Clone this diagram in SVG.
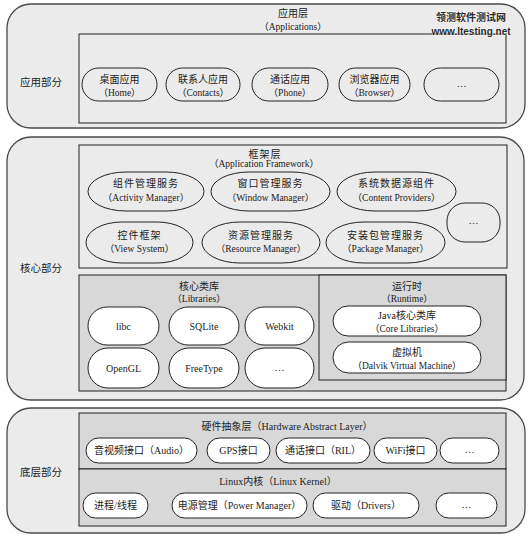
<svg xmlns="http://www.w3.org/2000/svg" width="531" height="537" viewBox="0 0 531 537">
<style>
.sec{fill:#ebebeb;stroke:#4a4a4a;stroke-width:1.3}
.box{fill:none;stroke:#222;stroke-width:1}
.gbox{fill:#d8d8d8;stroke:#222;stroke-width:1}
.n{fill:none;stroke:#222;stroke-width:1}
.w{fill:#fff;stroke:#222;stroke-width:1}
text{font-family:"Liberation Serif","Noto Sans CJK SC",serif;font-size:10px;fill:#222;text-anchor:middle}
.lab{font-size:10.5px}
.e{font-size:9.5px}
.fw{letter-spacing:1px}
.wm{font-family:"Liberation Sans","Noto Sans CJK SC",sans-serif;font-weight:bold;fill:#2a2a2a;stroke:#fff;stroke-width:0.8;paint-order:stroke}
</style>
<rect width="531" height="537" fill="#fff"/>

<!-- Section 1: applications -->
<g id="sec-app">
<rect class="sec" x="7" y="4" width="518" height="124" rx="24"/>
<rect class="box" x="79" y="34" width="427" height="89"/>
<text x="293" y="17">应用层</text>
<text class="e" x="293" y="30">（Applications）</text>
<text class="lab" x="41" y="86">应用部分</text>
</g>
<g id="app-home"><rect class="n" x="82" y="68" width="75" height="33" rx="16.5"/><text x="119.5" y="83">桌面应用</text><text class="e" x="119.5" y="96">（Home）</text></g>
<g id="app-contacts"><rect class="n" x="166" y="68" width="74" height="33" rx="16.5"/><text x="203" y="83">联系人应用</text><text class="e" x="203" y="96">（Contacts）</text></g>
<g id="app-phone"><rect class="n" x="252" y="68" width="76" height="33" rx="16.5"/><text x="290" y="83">通话应用</text><text class="e" x="290" y="96">（Phone）</text></g>
<g id="app-browser"><rect class="n" x="339" y="68" width="71" height="33" rx="16.5"/><text x="374.5" y="83">浏览器应用</text><text class="e" x="374.5" y="96">（Browser）</text></g>
<g id="app-more"><rect class="n" x="424" y="68" width="75" height="33" rx="16.5"/><text x="461.5" y="87">…</text></g>

<!-- Section 2: core -->
<g id="sec-core">
<rect class="sec" x="7" y="137" width="517" height="263" rx="24"/>
<rect class="box" x="79" y="145" width="428" height="123"/>
<text class="fw" x="265" y="158">框架层</text>
<text class="e" x="264" y="167">（Application Framework）</text>
<text class="lab" x="41" y="272">核心部分</text>
</g>
<g id="fw-activity"><rect class="n" x="88" y="172" width="116" height="39" rx="38" ry="19.5"/><text class="fw" x="146" y="187">组件管理服务</text><text class="e" x="146" y="201">（Activity Manager）</text></g>
<g id="fw-window"><rect class="n" x="211" y="172" width="119" height="39" rx="38" ry="19.5"/><text class="fw" x="270.5" y="187">窗口管理服务</text><text class="e" x="270.5" y="201">（Window Manager）</text></g>
<g id="fw-content"><rect class="n" x="337" y="172" width="119" height="39" rx="38" ry="19.5"/><text class="fw" x="396.5" y="187">系统数据源组件</text><text class="e" x="396.5" y="201">（Content Providers）</text></g>
<g id="fw-view"><rect class="n" x="86" y="222" width="107" height="41" rx="36" ry="20.5"/><text class="fw" x="139.5" y="239">控件框架</text><text class="e" x="139.5" y="252">（View System）</text></g>
<g id="fw-resource"><rect class="n" x="202" y="222" width="118" height="41" rx="38" ry="20.5"/><text class="fw" x="261" y="239">资源管理服务</text><text class="e" x="261" y="252">（Resource Manager）</text></g>
<g id="fw-package"><rect class="n" x="326" y="222" width="119" height="41" rx="38" ry="20.5"/><text class="fw" x="385.5" y="239">安装包管理服务</text><text class="e" x="385.5" y="252">（Package Manager）</text></g>
<g id="fw-more"><rect class="n" x="447" y="203" width="53" height="39" rx="18"/><text x="473.5" y="224">…</text></g>

<g id="libraries">
<rect class="gbox" x="79" y="275" width="427" height="116"/>
<text x="199" y="290">核心类库</text>
<text class="e" x="199" y="302">（Libraries）</text>
</g>
<g id="lib-libc"><rect class="w" x="88" y="307" width="71" height="38" rx="19"/><text x="123.5" y="330">libc</text></g>
<g id="lib-sqlite"><rect class="w" x="169" y="307" width="70" height="38" rx="19"/><text x="204" y="330">SQLite</text></g>
<g id="lib-webkit"><rect class="w" x="245" y="307" width="69" height="38" rx="19"/><text x="279.5" y="330">Webkit</text></g>
<g id="lib-opengl"><rect class="w" x="88" y="348" width="71" height="40" rx="20"/><text x="123.5" y="372">OpenGL</text></g>
<g id="lib-freetype"><rect class="w" x="169" y="348" width="70" height="40" rx="20"/><text x="204" y="372">FreeType</text></g>
<g id="lib-more"><rect class="w" x="245" y="348" width="69" height="40" rx="20"/><text x="279.5" y="371">…</text></g>

<g id="runtime">
<rect class="gbox" x="319" y="275" width="187" height="105"/>
<text x="407" y="290">运行时</text>
<text class="e" x="407" y="302">（Runtime）</text>
</g>
<g id="rt-core"><rect class="w" x="333" y="306" width="148" height="30" rx="15"/><text x="407" y="319">Java核心类库</text><text class="e" x="407" y="332">（Core Libraries）</text></g>
<g id="rt-dalvik"><rect class="w" x="333" y="342" width="148" height="31" rx="15.5"/><text x="407" y="356">虚拟机</text><text class="e" x="407" y="369">（Dalvik Virtual Machine）</text></g>

<!-- Section 3: bottom -->
<g id="sec-bottom">
<rect class="sec" x="7" y="408" width="518" height="125" rx="24"/>
<text class="lab" x="41" y="476">底层部分</text>
</g>
<g id="hal">
<rect class="gbox" x="79" y="413" width="427" height="56"/>
<text x="287" y="430">硬件抽象层（Hardware Abstract Layer）</text>
</g>
<g id="hal-audio"><rect class="w" x="86" y="438" width="111" height="25" rx="12.5"/><text x="141.5" y="454">音视频接口（Audio）</text></g>
<g id="hal-gps"><rect class="w" x="207" y="438" width="63" height="25" rx="12.5"/><text x="238.5" y="454">GPS接口</text></g>
<g id="hal-ril"><rect class="w" x="276" y="438" width="94" height="25" rx="12.5"/><text x="323" y="454">通话接口（RIL）</text></g>
<g id="hal-wifi"><rect class="w" x="374" y="438" width="63" height="25" rx="12.5"/><text x="405.5" y="454">WiFi接口</text></g>
<g id="hal-more"><rect class="w" x="440" y="438" width="59" height="25" rx="12.5"/><text x="469.5" y="453">…</text></g>

<g id="kernel">
<rect class="gbox" x="79" y="469" width="427" height="57"/>
<text x="278" y="485">Linux内核（Linux Kernel）</text>
</g>
<g id="k-process"><rect class="w" x="83" y="493" width="65" height="25" rx="12.5"/><text x="115.5" y="509">进程/线程</text></g>
<g id="k-power"><rect class="w" x="172" y="493" width="135" height="25" rx="12.5"/><text x="239.5" y="509">电源管理（Power Manager）</text></g>
<g id="k-drivers"><rect class="w" x="313" y="493" width="106" height="25" rx="12.5"/><text x="366" y="509">驱动（Drivers）</text></g>
<g id="k-more"><rect class="w" x="436" y="493" width="61" height="25" rx="12.5"/><text x="466.5" y="508">…</text></g>

<g id="watermark">
<text class="wm" x="471" y="21" font-size="14">领测软件测试网</text>
<text class="wm" x="471" y="35" font-size="13.5">www.ltesting.net</text>
</g>
<g id="connectors"></g>
</svg>
